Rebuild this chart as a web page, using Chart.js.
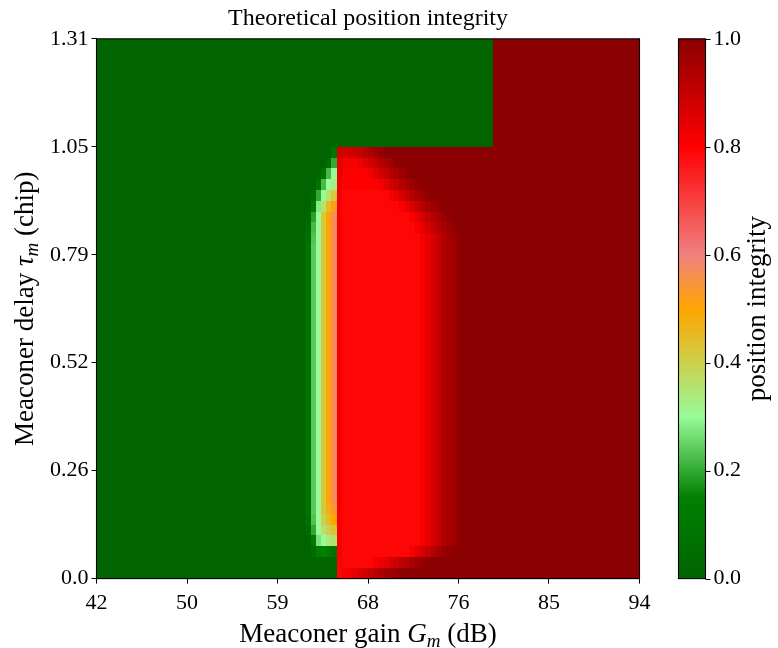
<!DOCTYPE html>
<html>
<head>
<meta charset="utf-8">
<title>Theoretical position integrity</title>
<script src="https://cdn.jsdelivr.net/npm/chart.js@4.4.1/dist/chart.umd.min.js"></script>
<style>
  html, body { margin: 0; padding: 0; background: #fff; }
  #wrap { width: 778px; height: 648px; }
</style>
</head>
<body>
<div id="wrap"><canvas id="integrityChart" width="778" height="648"></canvas></div>
<script>
// tick positions and the labels printed on the figure
var gainTicks = [42, 50.67, 59.33, 68, 76.67, 85.33, 94];
var gainTickLabels = ['42', '50', '59', '68', '76', '85', '94'];
var delayTicks = [0, 0.262, 0.524, 0.786, 1.048, 1.31];
var delayTickLabels = ['0.0', '0.26', '0.52', '0.79', '1.05', '1.31'];
var integrityTicks = [0, 0.2, 0.4, 0.6, 0.8, 1.0];

// grid: 104 gain columns of 0.5 dB from 42 dB, 50 delay rows of 0.0262 chip from 0
var gainStart = 42, gainStep = 0.5;
var delayStart = 0, delayStep = 0.0262;

// position integrity per cell, first row = lowest delay
// run-length: "value*count", a bare value is one cell
var integrityRows = [
  '0*46 .79 .8 .82 .84 .86 .88 .9 .92 .94 .96 .97 .98 .99 1*45',
  '0*46 .8 .79*6 .81 .83 .85 .87 .89 .91 .93 .95 .97 .98 .99 1*40',
  '0*41 .04 .12 .15 .12 .08 .81 .79*13 .81 .84 .87 .9 .93 .95 .97 .99 1*36',
  '0*41 .12 .27 .3 .34 .36 .81 .79*15 .81 .84 .87 .9 .93 .95 .97 .99 1*34',
  '0*40 .04 .2 .3 .36 .4 .43 .81 .79*15 .81 .84 .87 .9 .93 .95 .97 .99 1*34',
  '0*40 .07 .23 .3 .4 .45 .5 .81 .79*15 .81 .84 .87 .9 .93 .95 .97 .99 1*34',
  '0*40 .08 .24 .3 .42 .48 .54 .81 .79*15 .81 .84 .87 .9 .93 .95 .97 .99 1*34',
  '0*40 .08 .24 .3 .42 .5 .57 .81 .79*15 .81 .84 .87 .9 .93 .95 .97 .99 1*34',
  '0*40 .08 .24 .3 .42 .5 .57 .81 .79*15 .81 .84 .87 .9 .93 .95 .97 .99 1*34',
  '0*40 .08 .24 .3 .42 .5 .57 .81 .79*15 .81 .84 .87 .9 .93 .95 .97 .99 1*34',
  '0*40 .08 .24 .3 .42 .5 .57 .81 .79*15 .81 .84 .87 .9 .93 .95 .97 .99 1*34',
  '0*40 .08 .24 .3 .42 .5 .57 .81 .79*15 .81 .84 .87 .9 .93 .95 .97 .99 1*34',
  '0*40 .08 .24 .3 .42 .5 .57 .81 .79*15 .81 .84 .87 .9 .93 .95 .97 .99 1*34',
  '0*40 .08 .24 .3 .42 .5 .57 .81 .79*15 .81 .84 .87 .9 .93 .95 .97 .99 1*34',
  '0*40 .08 .24 .3 .42 .5 .57 .81 .79*15 .81 .84 .87 .9 .93 .95 .97 .99 1*34',
  '0*40 .08 .24 .3 .42 .5 .57 .81 .79*15 .81 .84 .87 .9 .93 .95 .97 .99 1*34',
  '0*40 .08 .24 .3 .42 .5 .57 .81 .79*15 .81 .84 .87 .9 .93 .95 .97 .99 1*34',
  '0*40 .08 .24 .3 .42 .5 .57 .81 .79*15 .81 .84 .87 .9 .93 .95 .97 .99 1*34',
  '0*40 .08 .24 .3 .42 .5 .57 .81 .79*15 .81 .84 .87 .9 .93 .95 .97 .99 1*34',
  '0*40 .08 .24 .3 .42 .5 .57 .81 .79*15 .81 .84 .87 .9 .93 .95 .97 .99 1*34',
  '0*40 .08 .24 .3 .42 .5 .57 .81 .79*15 .81 .84 .87 .9 .93 .95 .97 .99 1*34',
  '0*40 .08 .24 .3 .42 .5 .57 .81 .79*15 .81 .84 .87 .9 .93 .95 .97 .99 1*34',
  '0*40 .08 .24 .3 .42 .5 .57 .81 .79*15 .81 .84 .87 .9 .93 .95 .97 .99 1*34',
  '0*40 .08 .24 .3 .42 .5 .57 .81 .79*15 .81 .84 .87 .9 .93 .95 .97 .99 1*34',
  '0*40 .08 .24 .3 .42 .5 .57 .81 .79*15 .81 .84 .87 .9 .93 .95 .97 .99 1*34',
  '0*40 .08 .24 .3 .42 .5 .57 .81 .79*15 .81 .84 .87 .9 .93 .95 .97 .99 1*34',
  '0*40 .08 .24 .3 .42 .5 .57 .81 .79*15 .81 .84 .87 .9 .93 .95 .97 .99 1*34',
  '0*40 .08 .24 .3 .42 .5 .57 .81 .79*15 .81 .84 .87 .9 .93 .95 .97 .99 1*34',
  '0*40 .08 .24 .3 .42 .5 .57 .81 .79*15 .81 .84 .87 .9 .93 .95 .97 .99 1*34',
  '0*40 .08 .24 .3 .42 .5 .57 .81 .79*15 .81 .84 .87 .9 .93 .95 .97 .99 1*34',
  '0*40 .08 .24 .3 .42 .5 .57 .81 .79*15 .81 .84 .87 .9 .93 .95 .97 .99 1*34',
  '0*40 .07 .23 .3 .42 .5 .57 .81 .79*15 .81 .84 .87 .9 .93 .95 .97 .99 1*34',
  '0*40 .05 .22 .3 .42 .5 .57 .81 .79*14 .81 .84 .87 .9 .93 .95 .97 .99 1*35',
  '0*40 .03 .19 .3 .42 .5 .57 .81 .79*13 .81 .84 .87 .9 .93 .95 .97 .99 1*36',
  '0*41 .12 .28 .36 .45 .52 .82 .79*11 .81 .84 .87 .9 .93 .95 .97 .99 1*38',
  '0*41 .05 .2 .3 .36 .42 .82 .79*9 .81 .84 .87 .9 .93 .95 .97 .99 1*40',
  '0*42 .08 .22 .3 .33 .83 .8*7 .82 .85 .88 .9 .93 .95 .97 .99 1*42',
  '0*43 .08 .22 .3 .84 .8*5 .82 .85 .88 .9 .93 .95 .97 .99 1*44',
  '0*44 .06 .2 .85 .81*3 .83 .86 .88 .9 .93 .95 .97 .99 1*46',
  '0*45 .08 .88 .87 .88 .89 .9 .92 .94 .96 .98 1*49',
  '0*76 1*28',
  '0*76 1*28',
  '0*76 1*28',
  '0*76 1*28',
  '0*76 1*28',
  '0*76 1*28',
  '0*76 1*28',
  '0*76 1*28',
  '0*76 1*28',
  '0*76 1*28'
];

function expandRow(s) {
  var out = [];
  s.split(' ').forEach(function (tok) {
    var p = tok.split('*');
    var v = parseFloat(p[0]);
    var n = p.length > 1 ? parseInt(p[1], 10) : 1;
    for (var i = 0; i < n; i++) out.push(v);
  });
  return out;
}
var integrityGrid = integrityRows.map(expandRow);

// darkgreen - green - palegreen - orange - lightcoral - red - darkred
var cmapStops = [
  [0.0, [0, 100, 0]],
  [0.15, [0, 128, 0]],
  [0.3, [152, 251, 152]],
  [0.5, [255, 165, 0]],
  [0.6, [240, 128, 128]],
  [0.8, [255, 0, 0]],
  [1.0, [139, 0, 0]]
];

function cmap(v) {
  for (var i = 1; i < cmapStops.length; i++) {
    var a = cmapStops[i - 1], b = cmapStops[i];
    if (v <= b[0]) {
      var t = (v - a[0]) / (b[0] - a[0]);
      var c = a[1].map(function (ch, j) { return Math.round(ch + (b[1][j] - ch) * t); });
      return 'rgb(' + c.join(',') + ')';
    }
  }
  return 'rgb(139,0,0)';
}

var serif = "'Liberation Serif', 'Times New Roman', serif";

// text made of pieces with their own font and baseline shift
function drawRichText(ctx, parts, x, y, angle) {
  ctx.save();
  ctx.translate(x, y);
  ctx.rotate(angle);
  ctx.fillStyle = '#000';
  ctx.textBaseline = 'alphabetic';
  ctx.textAlign = 'left';
  var total = 0;
  parts.forEach(function (p) { ctx.font = p.font; total += ctx.measureText(p.text).width; });
  var cx = -total / 2;
  parts.forEach(function (p) {
    ctx.font = p.font;
    ctx.fillText(p.text, cx, p.dy || 0);
    cx += ctx.measureText(p.text).width;
  });
  ctx.restore();
}

var heatmapPlugin = {
  id: 'heatmap',
  beforeDatasetsDraw: function (chart) {
    var ctx = chart.ctx;
    var xs = chart.scales.x, ys = chart.scales.y, area = chart.chartArea;
    ctx.save();
    ctx.beginPath();
    ctx.rect(area.left, area.top, area.right - area.left, area.bottom - area.top);
    ctx.clip();
    integrityGrid.forEach(function (row, r) {
      var yTop = Math.round(ys.getPixelForValue(delayStart + (r + 1) * delayStep));
      var yBot = Math.round(ys.getPixelForValue(delayStart + r * delayStep));
      row.forEach(function (v, k) {
        var x0 = Math.round(xs.getPixelForValue(gainStart + k * gainStep));
        var x1 = Math.round(xs.getPixelForValue(gainStart + (k + 1) * gainStep));
        ctx.fillStyle = cmap(v);
        ctx.fillRect(x0, yTop, x1 - x0, yBot - yTop);
      });
    });
    ctx.restore();
  },
  afterDraw: function (chart) {
    var ctx = chart.ctx, area = chart.chartArea, cb = chart.scales.cb;

    // frame
    ctx.save();
    ctx.strokeStyle = '#000';
    ctx.lineWidth = 1.1;
    ctx.strokeRect(area.left, area.top, area.right - area.left, area.bottom - area.top);

    // colorbar
    var barLeft = area.right + 39, barWidth = 27;
    var barTop = cb.getPixelForValue(1), barBottom = cb.getPixelForValue(0);
    var grad = ctx.createLinearGradient(0, barBottom, 0, barTop);
    cmapStops.forEach(function (s) { grad.addColorStop(s[0], 'rgb(' + s[1].join(',') + ')'); });
    ctx.fillStyle = grad;
    ctx.fillRect(barLeft, barTop, barWidth, barBottom - barTop);
    ctx.strokeRect(barLeft, barTop, barWidth, barBottom - barTop);
    ctx.beginPath();
    cb.ticks.forEach(function (t) {
      var y = Math.round(cb.getPixelForValue(t.value)) + 0.5;
      ctx.moveTo(barLeft + barWidth, y);
      ctx.lineTo(barLeft + barWidth + 5, y);
    });
    ctx.stroke();
    ctx.restore();

    var big = '27px ' + serif;
    var bigIt = 'italic 27px ' + serif;
    var sub = 'italic 19px ' + serif;
    var midX = (area.left + area.right) / 2;
    var midY = (area.top + area.bottom) / 2;

    drawRichText(ctx, [
      { text: 'Meaconer gain ', font: big },
      { text: 'G', font: bigIt },
      { text: 'm', font: sub, dy: 5 },
      { text: ' (dB)', font: big }
    ], midX, 642, 0);

    drawRichText(ctx, [
      { text: 'Meaconer delay ', font: big },
      { text: '\u03c4', font: bigIt },
      { text: 'm', font: sub, dy: 5 },
      { text: ' (chip)', font: big }
    ], 33, midY, -Math.PI / 2);

    drawRichText(ctx, [
      { text: 'position integrity', font: big }
    ], 765, midY, -Math.PI / 2);
  }
};

var tickFont = { family: serif, size: 22 };

var integrityChart = new Chart(document.getElementById('integrityChart').getContext('2d'), {
  type: 'scatter',
  data: { datasets: [] },
  options: {
    responsive: false,
    animation: false,
    devicePixelRatio: 1,
    layout: { padding: { left: 47, right: 34, top: 0, bottom: 26 } },
    plugins: {
      legend: { display: false },
      tooltip: { enabled: false },
      title: {
        display: true,
        fullSize: false,
        text: 'Theoretical position integrity',
        color: '#000',
        font: { family: serif, size: 24, weight: 'normal' },
        padding: { top: 4, bottom: 6 }
      }
    },
    scales: {
      x: {
        type: 'linear',
        position: 'bottom',
        min: 42,
        max: 94,
        afterBuildTicks: function (scale) {
          scale.ticks = gainTicks.map(function (v) { return { value: v }; });
        },
        ticks: {
          autoSkip: false,
          maxRotation: 0,
          color: '#000',
          font: tickFont,
          padding: 6,
          callback: function (v, i) { return gainTickLabels[i]; }
        },
        grid: { display: true, drawOnChartArea: false, drawTicks: true, tickLength: 5, color: '#000' },
        border: { display: true, color: '#000' }
      },
      y: {
        type: 'linear',
        position: 'left',
        min: 0,
        max: 1.31,
        afterBuildTicks: function (scale) {
          scale.ticks = delayTicks.map(function (v) { return { value: v }; });
        },
        ticks: {
          autoSkip: false,
          color: '#000',
          font: tickFont,
          padding: 3,
          callback: function (v, i) { return delayTickLabels[i]; }
        },
        grid: { display: true, drawOnChartArea: false, drawTicks: true, tickLength: 5, color: '#000' },
        border: { display: true, color: '#000' }
      },
      cb: {
        type: 'linear',
        position: 'right',
        min: 0,
        max: 1,
        afterBuildTicks: function (scale) {
          scale.ticks = integrityTicks.map(function (v) { return { value: v }; });
        },
        ticks: {
          autoSkip: false,
          color: '#000',
          font: tickFont,
          padding: 3,
          callback: function (v) { return v.toFixed(1); }
        },
        // tick marks are drawn next to the colour bar, the gap keeps the labels beside it
        grid: { display: false, drawTicks: true, tickLength: 71 },
        border: { display: false }
      }
    }
  },
  plugins: [heatmapPlugin]
});
</script>
</body>
</html>
